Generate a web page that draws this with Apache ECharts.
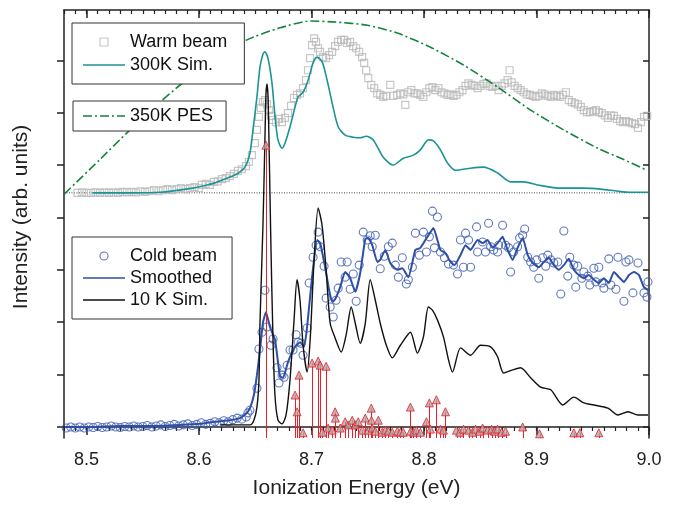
<!DOCTYPE html>
<html>
<head>
<meta charset="utf-8">
<script src="https://cdn.jsdelivr.net/npm/echarts@6/dist/echarts.min.js"></script>
<style>html,body{margin:0;padding:0;background:#fff;}#c{width:675px;height:506px;}</style>
</head>
<body>
<div id="c"></div>
<script>
// ---- axis ranges / ticks ----
const X_MIN = 8.48, X_MAX = 9.0;
const Y_MIN = -0.21, Y_MAX = 7.96;
const xMajorTicks = [8.5, 8.6, 8.7, 8.8, 8.9, 9.0];
const yTicks = [0, 1, 2, 3, 4, 5, 6, 7];
const warmBaseline = 4.47;

// ---- Warm beam (gray squares) [eV, intensity] ----
const warmBeam = [
[8.492,4.47],[8.496,4.48],[8.500,4.47],[8.504,4.47],[8.508,4.48],[8.512,4.47],[8.516,4.48],[8.520,4.47],
[8.524,4.48],[8.528,4.47],[8.532,4.49],[8.536,4.48],[8.540,4.49],[8.544,4.48],[8.548,4.50],[8.552,4.49],
[8.556,4.50],[8.560,4.52],[8.564,4.50],[8.568,4.52],[8.572,4.54],[8.576,4.52],[8.580,4.54],[8.584,4.56],
[8.588,4.54],[8.592,4.56],[8.596,4.58],[8.600,4.56],[8.6025,4.62],[8.6060,4.64],[8.6096,4.62],[8.6132,4.68],
[8.6167,4.69],[8.6203,4.73],[8.6239,4.75],[8.6274,4.79],[8.6310,4.83],[8.6346,4.89],[8.6381,4.92],[8.6417,4.98],
[8.6443,5.06],[8.6470,5.19],[8.6497,5.42],[8.6515,5.67],[8.6533,5.92],[8.6550,6.09],[8.6568,6.20],[8.6586,6.24],
[8.6604,6.16],[8.6622,6.05],[8.6639,5.94],[8.6657,5.86],[8.6684,5.82],[8.6711,5.88],[8.6737,5.82],[8.6764,5.90],
[8.6791,5.99],[8.6818,6.13],[8.6844,6.28],[8.6871,6.34],[8.6898,6.37],[8.6925,6.47],[8.6951,6.62],[8.6969,6.81],
[8.6987,7.04],[8.7005,7.29],[8.7023,7.42],[8.7040,7.35],[8.7058,7.23],[8.7076,7.16],[8.7103,7.06],[8.7129,7.04],
[8.7156,7.10],[8.7183,7.16],[8.7210,7.27],[8.7236,7.35],[8.7263,7.39],[8.7290,7.39],[8.7317,7.33],[8.7343,7.35],
[8.7370,7.27],[8.7397,7.23],[8.7424,7.16],[8.7450,7.06],[8.7468,6.95],[8.7486,6.81],[8.7504,6.66],[8.7531,6.53],
[8.7557,6.47],[8.7584,6.37],[8.7611,6.34],[8.7638,6.30],[8.7664,6.32],[8.7700,6.53],[8.7727,6.32],[8.7762,6.34],
[8.7789,6.37],[8.7816,6.35],[8.7834,6.15],[8.7860,6.39],[8.7887,6.43],[8.7914,6.37],[8.7941,6.37],[8.7967,6.34],
[8.7994,6.30],[8.8021,6.39],[8.8048,6.47],[8.8074,6.49],[8.8101,6.43],[8.8128,6.47],[8.8155,6.39],[8.8181,6.37],
[8.8208,6.34],[8.8235,6.35],[8.8262,6.32],[8.8288,6.34],[8.8315,6.39],[8.8342,6.43],[8.8369,6.51],[8.8395,6.56],
[8.8422,6.53],[8.8449,6.51],[8.8476,6.47],[8.8502,6.51],[8.8529,6.55],[8.8556,6.56],[8.8583,6.51],[8.8609,6.49],
[8.8636,6.51],[8.8663,6.43],[8.8690,6.51],[8.8716,6.56],[8.8743,6.62],[8.8761,6.81],[8.8779,6.58],[8.8806,6.51],
[8.8833,6.47],[8.8859,6.43],[8.8886,6.39],[8.8913,6.35],[8.8940,6.34],[8.8966,6.32],[8.8993,6.30],[8.9020,6.32],
[8.9047,6.37],[8.9073,6.35],[8.9100,6.32],[8.9127,6.30],[8.9154,6.34],[8.9180,6.32],[8.9207,6.30],[8.9234,6.34],
[8.9261,6.39],[8.9287,6.24],[8.9314,6.20],[8.9341,6.18],[8.9368,6.16],[8.9394,6.11],[8.9421,6.05],[8.9448,6.01],
[8.9475,6.01],[8.9501,6.03],[8.9528,6.05],[8.9555,6.01],[8.9582,5.99],[8.9608,5.95],[8.9635,5.90],[8.9662,5.95],
[8.9688,5.94],[8.9715,5.88],[8.9742,5.84],[8.9769,5.82],[8.9795,5.84],[8.9822,5.82],[8.9849,5.80],[8.9876,5.78],
[8.9902,5.71],[8.9929,5.82],[8.9956,5.92],[8.9983,5.94]
];

// ---- 300K simulation (teal) ----
const sim300K = [
[8.5053,4.47],[8.5383,4.47],[8.5650,4.48],[8.5944,4.56],[8.6070,4.62],[8.6141,4.66],[8.6248,4.75],[8.6337,4.83],
[8.6408,4.96],[8.6453,5.23],[8.6480,5.67],[8.6515,6.30],[8.6542,6.87],[8.6569,7.12],[8.6586,7.16],[8.6613,7.04],
[8.6649,6.56],[8.6676,5.92],[8.6702,5.48],[8.6738,5.32],[8.6765,5.42],[8.6809,5.73],[8.6854,6.11],[8.6881,6.30],
[8.6925,6.39],[8.6970,6.62],[8.7014,6.95],[8.7050,7.06],[8.7095,6.97],[8.7139,6.62],[8.7184,6.18],[8.7237,5.73],
[8.7299,5.57],[8.7371,5.53],[8.7433,5.52],[8.7487,5.55],[8.7549,5.48],[8.7638,5.15],[8.7727,5.00],[8.7816,5.13],
[8.7906,5.19],[8.7968,5.29],[8.8039,5.48],[8.8084,5.46],[8.8146,5.29],[8.8209,5.04],[8.8280,4.90],[8.8414,4.94],
[8.8529,4.96],[8.8654,4.85],[8.8770,4.68],[8.8886,4.68],[8.9011,4.62],[8.9189,4.56],[8.9305,4.56],[8.9421,4.56],
[8.9572,4.54],[8.9724,4.50],[8.9840,4.48],[8.9991,4.48]
];

// ---- 350K PES (green dash-dot) ----
const pes350K = [
[8.4804,4.45],[8.5116,5.10],[8.5357,5.61],[8.5606,6.11],[8.5856,6.57],[8.6141,7.00],[8.6426,7.39],[8.6720,7.62],
[8.6988,7.75],[8.7210,7.73],[8.7496,7.67],[8.7763,7.52],[8.8057,7.25],[8.8351,6.91],[8.8654,6.49],[8.8948,6.05],
[8.9242,5.67],[8.9545,5.32],[8.9750,5.13],[8.9973,4.91]
];

// ---- Cold beam (blue circles) ----
const coldBeam = [
[8.482,-0.02],[8.486,0.00],[8.490,-0.02],[8.494,0.00],[8.498,-0.02],[8.502,0.00],[8.506,-0.01],[8.510,0.01],
[8.514,-0.01],[8.518,0.00],[8.522,0.02],[8.526,0.00],[8.530,-0.01],[8.534,0.01],[8.538,0.00],[8.542,0.02],
[8.546,0.00],[8.550,0.01],[8.554,0.03],[8.558,0.00],[8.562,0.02],[8.566,0.04],[8.570,0.01],[8.574,0.03],
[8.578,0.05],[8.582,0.02],[8.586,0.04],[8.590,0.06],[8.594,0.03],[8.598,0.05],[8.602,0.08],[8.606,0.05],
[8.610,0.07],[8.614,0.10],[8.618,0.08],[8.622,0.12],[8.626,0.10],[8.630,0.14],[8.634,0.17],[8.638,0.15],
[8.642,0.19],[8.6435,0.27],[8.6453,0.32],[8.6515,0.74],[8.6533,1.49],[8.6560,1.81],[8.6586,2.61],[8.6604,1.91],
[8.6640,1.56],[8.6658,1.68],[8.6693,1.13],[8.6711,0.84],[8.6738,0.99],[8.6756,0.95],[8.6783,1.18],[8.6809,1.47],
[8.6836,1.47],[8.6863,1.76],[8.6881,1.62],[8.6907,1.60],[8.6925,1.37],[8.6961,1.89],[8.6979,2.75],[8.7014,3.24],
[8.7041,3.47],[8.7059,3.72],[8.7077,3.44],[8.7112,3.07],[8.7130,2.46],[8.7166,2.29],[8.7193,2.10],[8.7219,2.42],
[8.7237,2.65],[8.7264,3.15],[8.7299,2.86],[8.7317,3.15],[8.7344,2.63],[8.7371,2.92],[8.7397,2.40],[8.7424,3.09],
[8.7460,3.72],[8.7495,3.57],[8.7522,3.65],[8.7540,3.44],[8.7567,3.66],[8.7611,3.02],[8.7647,3.26],[8.7683,3.44],
[8.7718,3.51],[8.7745,3.09],[8.7772,2.86],[8.7807,3.23],[8.7843,2.73],[8.7861,2.81],[8.7897,3.05],[8.7923,3.70],
[8.7959,3.28],[8.7995,3.72],[8.8021,3.34],[8.8048,3.63],[8.8075,4.12],[8.8093,3.42],[8.8119,4.01],[8.8146,3.34],
[8.8182,3.23],[8.8218,3.11],[8.8262,3.09],[8.8298,2.92],[8.8324,3.57],[8.8351,3.05],[8.8369,3.70],[8.8396,3.57],
[8.8414,3.05],[8.8467,3.82],[8.8476,3.34],[8.8521,3.53],[8.8547,3.34],[8.8574,3.89],[8.8592,3.44],[8.8619,3.38],
[8.8654,3.34],[8.8663,3.47],[8.8699,3.85],[8.8725,3.47],[8.8752,3.42],[8.8770,2.96],[8.8797,3.34],[8.8832,3.44],
[8.8850,3.61],[8.8877,3.66],[8.8895,3.78],[8.8922,3.24],[8.8948,3.15],[8.8975,3.05],[8.9002,3.19],[8.9020,2.84],
[8.9055,3.23],[8.9082,3.07],[8.9100,3.28],[8.9127,3.19],[8.9154,3.13],[8.9189,3.15],[8.9216,2.54],[8.9243,3.74],
[8.9278,2.88],[8.9296,3.24],[8.9332,3.09],[8.9349,2.67],[8.9367,3.07],[8.9403,2.84],[8.9421,2.96],[8.9456,2.88],
[8.9474,2.71],[8.9510,3.03],[8.9528,2.77],[8.9554,3.05],[8.9581,2.75],[8.9599,2.65],[8.9643,3.21],[8.9661,2.71],
[8.9706,2.63],[8.9724,3.24],[8.9777,2.40],[8.9795,3.15],[8.9822,3.19],[8.9857,2.56],[8.9902,3.13],[8.9955,2.56],
[8.9982,2.48],[8.9991,2.77]
];

// ---- Smoothed cold beam (blue line) ----
const smoothed = [
[8.4813,0.00],[8.5027,0.00],[8.5294,0.02],[8.5561,0.02],[8.5829,0.04],[8.6007,0.06],[8.6141,0.10],[8.6275,0.13],
[8.6364,0.17],[8.6417,0.25],[8.6453,0.36],[8.6488,0.61],[8.6515,0.99],[8.6542,1.47],[8.6569,2.00],[8.6595,2.19],
[8.6631,1.91],[8.6676,1.66],[8.6720,0.97],[8.6747,0.94],[8.6791,1.24],[8.6854,1.53],[8.6898,1.62],[8.6934,1.53],
[8.6961,1.91],[8.7005,2.86],[8.7050,3.57],[8.7077,3.51],[8.7121,3.05],[8.7157,2.61],[8.7184,2.39],[8.7210,2.44],
[8.7255,2.67],[8.7299,2.96],[8.7344,2.84],[8.7389,2.58],[8.7433,2.94],[8.7478,3.59],[8.7504,3.61],[8.7540,3.47],
[8.7585,3.15],[8.7611,3.19],[8.7656,3.38],[8.7700,3.13],[8.7763,3.00],[8.7807,3.03],[8.7861,2.86],[8.7923,3.38],
[8.7968,3.42],[8.8012,3.57],[8.8057,3.72],[8.8084,3.80],[8.8119,3.57],[8.8146,3.38],[8.8191,3.32],[8.8235,3.15],
[8.8271,3.09],[8.8324,3.28],[8.8369,3.47],[8.8414,3.38],[8.8476,3.57],[8.8521,3.51],[8.8565,3.57],[8.8610,3.42],
[8.8654,3.51],[8.8699,3.63],[8.8743,3.38],[8.8788,3.19],[8.8832,3.42],[8.8877,3.61],[8.8922,3.28],[8.8966,3.13],
[8.9020,3.05],[8.9064,3.15],[8.9109,3.23],[8.9154,3.09],[8.9198,3.00],[8.9243,3.09],[8.9287,3.21],[8.9332,3.00],
[8.9376,2.90],[8.9421,2.84],[8.9465,2.90],[8.9510,2.81],[8.9554,2.75],[8.9599,2.84],[8.9643,2.75],[8.9688,2.96],
[8.9733,2.86],[8.9777,2.77],[8.9822,2.90],[8.9866,2.96],[8.9911,2.90],[8.9955,2.67],[9.0000,2.61]
];

// ---- 10 K simulation (black) ----
const sim10K = [
[8.6185,0.04],[8.6453,0.04],[8.6488,0.13],[8.6515,0.38],[8.6533,0.90],[8.6542,1.98],[8.6569,3.89],[8.6586,5.48],
[8.6595,6.34],[8.6604,6.55],[8.6613,6.34],[8.6622,5.48],[8.6640,3.38],[8.6658,1.66],[8.6675,0.61],[8.6702,0.13],
[8.6738,0.06],[8.6774,0.23],[8.6809,0.90],[8.6845,2.04],[8.6871,2.81],[8.6898,2.42],[8.6925,1.56],[8.6961,1.05],
[8.6988,1.66],[8.7023,3.19],[8.7059,4.18],[8.7094,3.85],[8.7130,3.00],[8.7166,1.98],[8.7210,1.70],[8.7264,1.43],
[8.7308,1.76],[8.7353,2.29],[8.7389,1.98],[8.7433,1.60],[8.7478,1.98],[8.7522,2.81],[8.7567,2.42],[8.7611,1.98],
[8.7665,1.56],[8.7718,1.32],[8.7790,1.56],[8.7879,1.81],[8.7941,1.41],[8.7995,1.72],[8.8039,2.29],[8.8075,2.23],
[8.8120,2.04],[8.8173,1.72],[8.8218,1.28],[8.8253,1.05],[8.8325,1.51],[8.8414,1.37],[8.8503,1.56],[8.8592,1.53],
[8.8654,1.34],[8.8708,1.03],[8.8788,1.09],[8.8859,1.13],[8.8948,0.94],[8.9037,0.76],[8.9127,0.71],[8.9234,0.42],
[8.9332,0.57],[8.9421,0.46],[8.9510,0.42],[8.9635,0.36],[8.9724,0.23],[8.9813,0.29],[8.9902,0.23],[8.9991,0.23]
];

// ---- stick spectrum (red sticks with triangles) ----
const sticks = [
[8.6595,5.38],[8.6854,0.61],[8.6872,0.29],[8.6889,0.99],[8.6925,-0.11],[8.7005,1.22],[8.7059,1.26],[8.7077,1.18],
[8.7130,1.16],[8.7094,-0.10],[8.7148,-0.02],[8.7184,-0.06],[8.7210,0.29],[8.7212,0.17],[8.7255,-0.02],[8.7299,0.10],
[8.7326,0.04],[8.7362,0.13],[8.7389,0.04],[8.7415,0.10],[8.7451,-0.06],[8.7478,0.17],[8.7504,-0.06],[8.7531,0.36],
[8.7533,0.13],[8.7540,-0.02],[8.7567,-0.08],[8.7594,0.13],[8.7629,-0.10],[8.7656,-0.06],[8.7683,-0.08],[8.7718,-0.10],
[8.7763,-0.08],[8.7790,-0.10],[8.7816,-0.10],[8.7879,0.38],[8.7881,-0.08],[8.7906,-0.10],[8.7932,-0.06],[8.7968,-0.10],
[8.8021,0.10],[8.8048,0.46],[8.8057,-0.04],[8.8110,0.52],[8.8146,-0.04],[8.8173,-0.06],[8.8191,0.29],[8.8289,-0.06],
[8.8316,-0.10],[8.8351,-0.04],[8.8396,-0.06],[8.8431,-0.10],[8.8458,-0.04],[8.8494,-0.08],[8.8521,-0.02],[8.8565,-0.06],
[8.8601,-0.04],[8.8627,-0.08],[8.8654,-0.04],[8.8690,-0.10],[8.8725,-0.08],[8.8877,0.00],[8.9027,-0.13],[8.9332,-0.11],
[8.9385,-0.11],[8.9554,-0.11]
];

const FONT = 'Liberation Sans, Arial, Helvetica, sans-serif';
const AX = '#222';
const C_WARM = '#b9b9b9', C_TEAL = '#1a9494', C_PES = '#13843c', C_COLD = '#3a57b0', C_SMOOTH = '#2f4fa6', C_10K = '#111', C_RED = '#ee1c24';

// legend icon shapes (line segments / outline symbols)
const ICON_LINE = 'path://M0,0 H42 V1.6 H0 Z';
const ICON_DASHDOT = 'path://M0,0 H9 V1.6 H0 Z M12,0 H14 V1.6 H12 Z M17,0 H26 V1.6 H17 Z M29,0 H31 V1.6 H29 Z M34,0 H42 V1.6 H34 Z';
const ICON_SQUARE = 'path://M0,0 H8 V8 H0 Z';
const ICON_CIRCLE = 'path://M4,0 A4,4 0 1,1 4,8 A4,4 0 1,1 4,0 Z';

const chart = echarts.init(document.getElementById('c'), null, {renderer: 'canvas'});

function xAxisDef(pos, major) {
  return {
    type: 'value', gridIndex: 0, position: pos, min: X_MIN, max: X_MAX,
    interval: major ? undefined : 0.01,
    axisLine: {show: major, lineStyle: {color: AX, width: 1.5}},
    axisTick: major ? {show: true, inside: pos === 'top', length: 8, customValues: xMajorTicks, lineStyle: {color: AX, width: 1.5}}
                    : {show: true, inside: pos === 'top', length: 4, lineStyle: {color: AX, width: 1.2}},
    axisLabel: (major && pos === 'bottom') ? {show: true, customValues: xMajorTicks, fontSize: 18, color: AX, fontFamily: FONT, margin: 13,
                 formatter: v => Number(v).toFixed(1)} : {show: false},
    splitLine: {show: false},
    name: (major && pos === 'bottom') ? 'Ionization Energy (eV)' : '',
    nameLocation: 'middle', nameGap: 40,
    nameTextStyle: {fontSize: 21, color: AX, fontFamily: FONT}
  };
}

const legendCommon = {
  orient: 'vertical', backgroundColor: '#fff', borderColor: '#333', borderWidth: 1,
  itemWidth: 42, itemHeight: 8, symbolKeepAspect: true,
  textStyle: {fontSize: 18, color: '#111', fontFamily: FONT},
  selectedMode: false, z: 10
};

chart.setOption({
  animation: false,
  backgroundColor: '#fff',
  grid: {left: 64, right: 26, top: 10, bottom: 68, containLabel: false, outerBoundsMode: 'none'},
  xAxis: [xAxisDef('bottom', true), xAxisDef('bottom', false), xAxisDef('top', true), xAxisDef('top', false)],
  yAxis: [
    {type: 'value', position: 'left', min: Y_MIN, max: Y_MAX,
     axisLine: {show: true, lineStyle: {color: AX, width: 1.5}},
     axisTick: {show: true, inside: false, length: 7, customValues: yTicks, lineStyle: {color: AX, width: 1.5}},
     axisLabel: {show: false}, splitLine: {show: false},
     name: 'Intensity (arb. units)', nameLocation: 'middle', nameGap: 32,
     nameTextStyle: {fontSize: 21, color: AX, fontFamily: FONT, padding: [0, 0, 0, 14]}},
    {type: 'value', position: 'right', min: Y_MIN, max: Y_MAX,
     axisLine: {show: true, lineStyle: {color: AX, width: 1.5}},
     axisTick: {show: true, inside: true, length: 6, customValues: yTicks, lineStyle: {color: AX, width: 1.5}},
     axisLabel: {show: false}, splitLine: {show: false}}
  ],
  legend: [
    Object.assign({}, legendCommon, {left: 72, top: 23, itemGap: 5, padding: [10, 17, 10, 11], data: [
      {name: 'Warm beam', icon: ICON_SQUARE, itemStyle: {color: 'rgba(255,255,255,0)', borderColor: C_WARM, borderWidth: 1.2}},
      {name: '300K Sim.', icon: ICON_LINE, itemStyle: {color: C_TEAL, borderWidth: 0}}
    ]}),
    Object.assign({}, legendCommon, {left: 73, top: 101, itemGap: 5, padding: [6, 13, 6, 10], data: [
      {name: '350K PES', icon: ICON_DASHDOT, itemStyle: {color: C_PES, borderWidth: 0}}
    ]}),
    Object.assign({}, legendCommon, {left: 72, top: 237, itemGap: 4, padding: [10, 15, 10, 11], data: [
      {name: 'Cold beam', icon: ICON_CIRCLE, itemStyle: {color: 'rgba(255,255,255,0)', borderColor: C_COLD, borderWidth: 1.1}},
      {name: 'Smoothed', icon: ICON_LINE, itemStyle: {color: C_SMOOTH, borderWidth: 0}},
      {name: '10 K Sim.', icon: ICON_LINE, itemStyle: {color: C_10K, borderWidth: 0}}
    ]})
  ],
  series: [
    {name: 'Warm beam', type: 'scatter', data: warmBeam, symbol: 'rect', symbolSize: 7,
     itemStyle: {color: 'rgba(255,255,255,0)', borderColor: C_WARM, borderWidth: 1.2}, z: 2},
    {name: '300K Sim.', type: 'line', data: sim300K, symbol: 'none', smooth: 0.25,
     lineStyle: {color: C_TEAL, width: 1.6}, itemStyle: {color: C_TEAL}, z: 3},
    {name: '350K PES', type: 'line', data: pes350K, symbol: 'none', smooth: 0.2,
     lineStyle: {color: C_PES, width: 1.6, type: [9, 3, 2, 3]}, itemStyle: {color: C_PES}, z: 3},
    {name: 'baseline', type: 'line', data: [[X_MIN, warmBaseline], [X_MAX, warmBaseline]], symbol: 'none',
     lineStyle: {color: '#444', width: 1, type: [1, 1.5]}, z: 1, silent: true},
    {name: 'Cold beam', type: 'scatter', data: coldBeam, symbol: 'circle', symbolSize: 8,
     itemStyle: {color: 'rgba(255,255,255,0)', borderColor: C_COLD, borderWidth: 1.1}, z: 4},
    {name: 'Smoothed', type: 'line', data: smoothed, symbol: 'none', smooth: 0.15,
     lineStyle: {color: C_SMOOTH, width: 2}, itemStyle: {color: C_SMOOTH}, z: 5},
    {name: '10 K Sim.', type: 'line', data: sim10K, symbol: 'none', smooth: 0.25,
     lineStyle: {color: C_10K, width: 1.4}, itemStyle: {color: C_10K}, z: 5},
    {name: 'sticks', type: 'custom', data: sticks, z: 6, silent: true,
     renderItem: function (params, api) {
       const x = api.value(0), y = api.value(1);
       const top = api.coord([x, y]);
       const base = api.coord([x, Y_MIN]);
       const px = Math.round(top[0]) + 0.5;
       return {type: 'line', shape: {x1: px, y1: top[1], x2: px, y2: base[1]},
               style: {stroke: C_RED, lineWidth: 1}};
     }},
    {name: 'stickHeads', type: 'scatter', data: sticks, symbol: 'triangle', symbolSize: 8, z: 7,
     itemStyle: {color: '#a9a9a9', borderColor: C_RED, borderWidth: 1}}
  ]
});
</script>
</body>
</html>
